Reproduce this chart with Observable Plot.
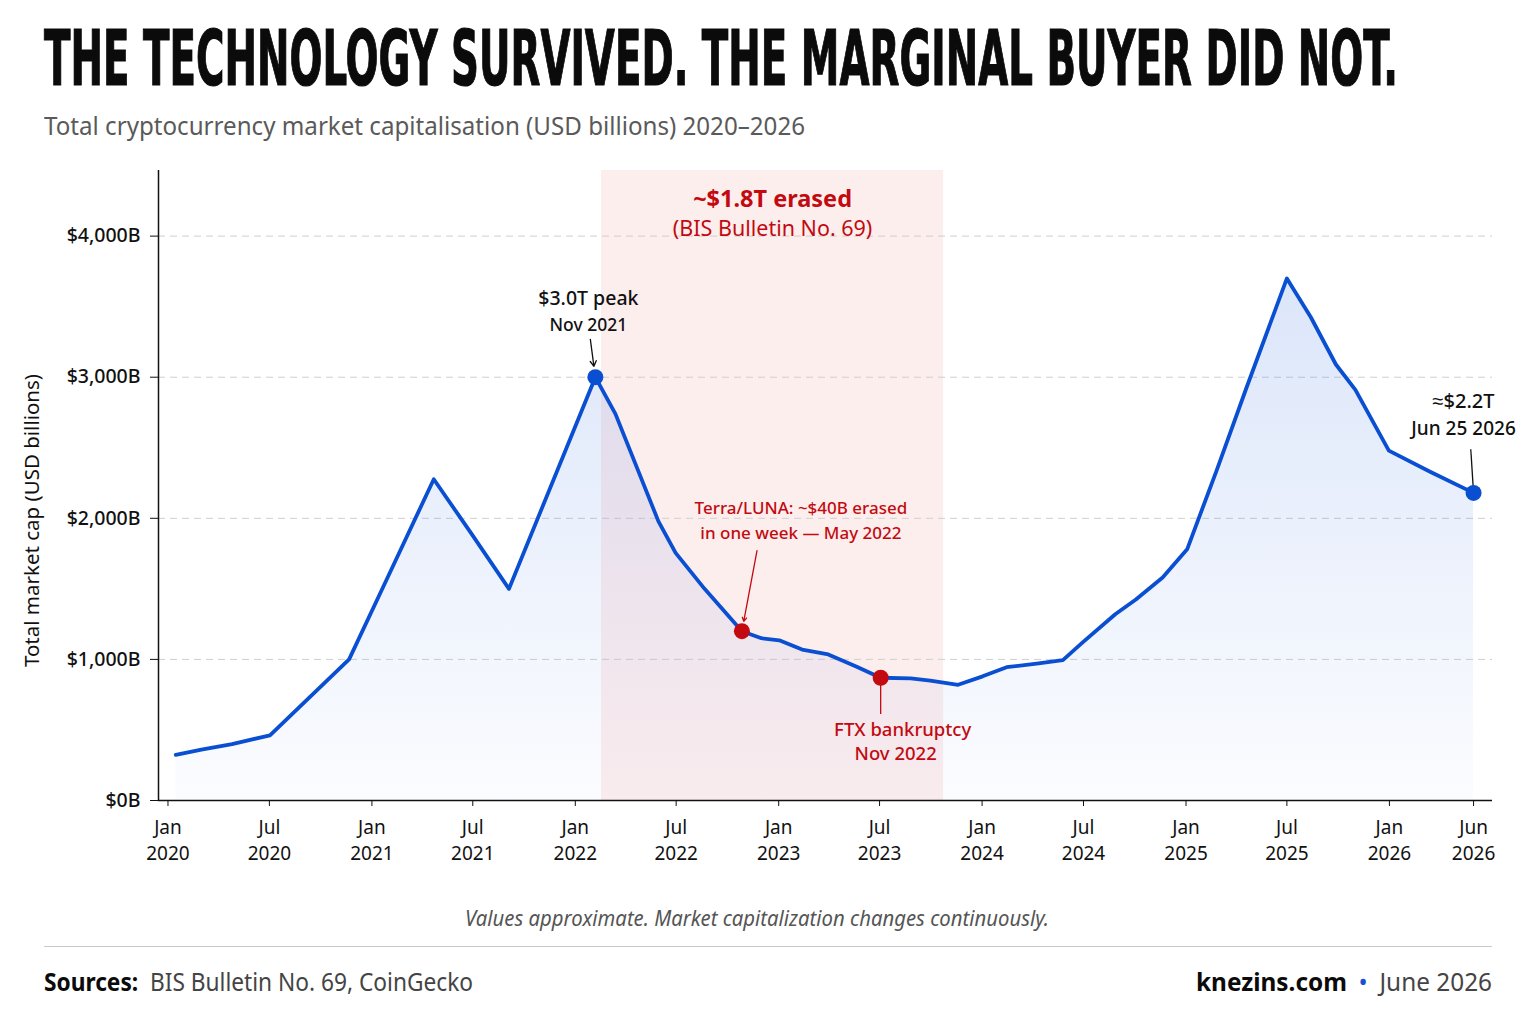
<!DOCTYPE html>
<html>
<head>
<meta charset="utf-8">
<script src="https://cdn.jsdelivr.net/npm/d3@7"></script>
<script src="https://cdn.jsdelivr.net/npm/@observablehq/plot@0.6"></script>
<style>
  body { margin: 0; background: #ffffff; }
  #page { position: relative; width: 1536px; height: 1024px; overflow: hidden; background: #ffffff; font-family: "Noto Sans", sans-serif; }
  .fit { position: absolute; white-space: nowrap; transform-origin: 0 0; display: inline-block; }
  #title { left: 44px; top: 21px; font-family: "Liberation Sans Narrow", "DejaVu Sans Condensed", "Roboto", sans-serif; font-stretch: condensed; font-weight: 700; font-size: 76px; line-height: 1; color: #0b0b0b; -webkit-text-stroke: 1.2px #0b0b0b; }
  #subtitle { left: 44px; top: 110px; font-family: "Liberation Sans Narrow", "Noto Sans", sans-serif; font-stretch: condensed; font-size: 25px; line-height: 1.2; color: #5a5a5a; }
  #chart { position: absolute; left: 0; top: 150px; }
  #caption { left: 465px; top: 906px; font-family: "Liberation Sans Narrow", "Noto Sans", sans-serif; font-stretch: condensed; font-style: italic; font-size: 21px; line-height: 1.2; color: #555; }
  #rule { position: absolute; left: 44px; width: 1448px; top: 946px; height: 0; border-top: 1.5px solid #c9c9c9; }
  #sources { left: 44px; top: 966px; font-family: "Liberation Sans Narrow", "Noto Sans", sans-serif; font-stretch: condensed; font-size: 25px; line-height: 1.2; color: #444; }
  #sources b { color: #0b0b0b; }
  #brand { left: 1196px; top: 966px; font-family: "Liberation Sans Narrow", "Noto Sans", sans-serif; font-stretch: condensed; font-size: 25px; line-height: 1.2; color: #444; }
  #brand .site { color: #0b0b0b; font-weight: 700; }
  #brand .dot { color: #1d4fd0; padding: 0 12px; }
</style>
</head>
<body>
<div id="page">
  <div id="title" class="fit">THE TECHNOLOGY SURVIVED. THE MARGINAL BUYER DID NOT.</div>
  <div id="subtitle" class="fit">Total cryptocurrency market capitalisation (USD billions) 2020–2026</div>
  <div id="chart"></div>
  <div id="caption" class="fit">Values approximate. Market capitalization changes continuously.</div>
  <div id="rule"></div>
  <div id="sources" class="fit"><b>Sources:</b>&nbsp; BIS Bulletin No. 69, CoinGecko</div>
  <div id="brand" class="fit"><span class="site">knezins.com</span><span class="dot">•</span>June 2026</div>
</div>
<script>
// ---- data ----
const dates = ["2020-01-15","2020-03-01","2020-04-25","2020-07-02","2020-11-21","2021-01-22","2021-04-22","2021-06-27","2021-09-04",
  "2022-02-06","2022-03-14","2022-05-30","2022-06-30","2022-08-21","2022-10-27","2022-12-01",
  "2023-01-02","2023-02-12","2023-03-31","2023-05-20","2023-07-03","2023-08-26","2023-09-30","2023-11-19",
  "2024-01-02","2024-02-14","2024-04-08","2024-05-25","2024-06-28","2024-08-27","2024-10-03","2024-11-20",
  "2025-01-03","2025-02-25","2025-04-19","2025-07-01","2025-08-13","2025-09-27","2025-11-01","2025-12-31",
  "2026-03-15","2026-06-01"];
const values = [324,360,400,462,1000,1520,2277,1900,1500,
  3000,2740,1980,1755,1500,1200,1150,
  1135,1070,1035,950,870,865,850,820,
  880,945,970,995,1115,1320,1425,1580,
  1780,2340,2920,3700,3425,3090,2910,2480,
  2330,2180];

const tickDates = ["2020-01-01","2020-07-01","2021-01-01","2021-07-01","2022-01-01","2022-07-01","2023-01-01","2023-07-01",
  "2024-01-01","2024-07-01","2025-01-01","2025-07-01","2026-01-01","2026-06-01"];
const tickMonths = ["Jan","Jul","Jan","Jul","Jan","Jul","Jan","Jul","Jan","Jul","Jan","Jul","Jan","Jun"];
const tickYears = ["2020","2020","2021","2021","2022","2022","2023","2023","2024","2024","2025","2025","2026","2026"];
const yTicks = [0, 1000, 2000, 3000, 4000];

const shadeStart = "2022-02-17";
const shadeEnd = "2023-10-24";

const peakIndex = 9, terraIndex = 14, ftxIndex = 20, lastIndex = 41;
const peakText = ["$3.0T peak", "Nov 2021"];
const erasedText = ["~$1.8T erased", "(BIS Bulletin No. 69)"];
const terraText = ["Terra/LUNA: ~$40B erased", "in one week — May 2022"];
const ftxText = ["FTX bankruptcy", "Nov 2022"];
const lastText = ["≈$2.2T", "Jun 25 2026"];
const yLabel = "Total market cap (USD billions)";

// ---- build ----
const BLUE = "#0a4fd2";
const RED = "#c20a10";
const data = dates.map((d, i) => ({date: new Date(d), value: values[i]}));
const peak = data[peakIndex], terra = data[terraIndex], ftx = data[ftxIndex], last = data[lastIndex];
const DAY = 864e5;
const shade = [{x1: new Date(shadeStart), x2: new Date(shadeEnd)}];
const shadeMid = new Date((+shade[0].x1 + +shade[0].x2) / 2);
const ticks = tickDates.map((d, i) => ({date: new Date(d), month: tickMonths[i], year: tickYears[i]}));
const tickFont = "Liberation Sans Narrow, Noto Sans, sans-serif";

const chart = Plot.plot({
  width: 1536,
  height: 720,
  marginLeft: 158,
  marginRight: 44,
  marginTop: 20,
  marginBottom: 70,
  style: {fontFamily: "Noto Sans, sans-serif", fontSize: "18px", color: "#111", background: "transparent", overflow: "visible"},
  x: {type: "utc", domain: [new Date("2019-12-15"), new Date("2026-07-05")], axis: null},
  y: {domain: [0, 4465], axis: null},
  marks: [
    Plot.rect(shade, {x1: "x1", x2: "x2", fill: "#fdeeee"}),
    Plot.gridY([1000, 2000, 3000, 4000], {stroke: "#cfcfcf", strokeOpacity: 1, strokeDasharray: "7,5", strokeWidth: 1}),
    Plot.areaY(data, {x: "date", y: "value", fill: "url(#capGrad)"}),
    Plot.line(data, {x: "date", y: "value", stroke: BLUE, strokeWidth: 3.8, strokeLinejoin: "round"}),
    Plot.ruleY([0], {stroke: "#111", strokeWidth: 1.5}),
    Plot.ruleX([new Date("2019-12-15")], {stroke: "#111", strokeWidth: 1.5}),
    Plot.axisY({ticks: yTicks, tickSize: 8, tickPadding: 10, tickFormat: d => "$" + d3.format(",")(d) + "B", fontSize: 19.5, fontWeight: 500, label: null}),
    Plot.axisX({ticks: ticks.map(t => t.date), tickSize: 6, tickFormat: () => "", label: null}),
    Plot.text(ticks, {x: "date", text: "month", frameAnchor: "bottom", lineAnchor: "middle", dy: 27, fontSize: 19, fontFamily: tickFont, fill: "#111"}),
    Plot.text(ticks, {x: "date", text: "year", frameAnchor: "bottom", lineAnchor: "middle", dy: 53, fontSize: 19, fontFamily: tickFont, fill: "#111"}),
    Plot.text([yLabel], {frameAnchor: "left", textAnchor: "middle", lineAnchor: "middle", dx: -126, dy: 35, rotate: -90, fontSize: 20.5, fill: "#111", text: d => d}),
    // shaded-region label
    Plot.text([erasedText[0]], {x: () => shadeMid, frameAnchor: "top", lineAnchor: "middle", dy: 29, text: d => d, fontSize: 23.5, fontWeight: 700, fill: RED}),
    Plot.text([erasedText[1]], {x: () => shadeMid, frameAnchor: "top", lineAnchor: "middle", dy: 59, text: d => d, fontSize: 21.5, fill: RED}),
    // peak
    Plot.arrow([peak], {x1: d => new Date(+d.date - 9 * DAY), y1: d => d.value + 268, x2: "date", y2: "value", insetEnd: 11, headLength: 7, stroke: "#111", strokeWidth: 1.3}),
    Plot.text([peak], {x: "date", y: "value", text: () => peakText[0], dx: -7, dy: -78, fontSize: 19.5, fontWeight: 500, fill: "#111"}),
    Plot.text([peak], {x: "date", y: "value", text: () => peakText[1], dx: -7, dy: -52, fontSize: 17.5, fontWeight: 500, fill: "#111"}),
    // terra
    Plot.arrow([terra], {x1: d => new Date(+d.date + 27 * DAY), y1: d => d.value + 570, x2: "date", y2: "value", insetEnd: 10, headLength: 5, stroke: RED, strokeWidth: 1.3}),
    Plot.text([terra], {x: "date", y: "value", text: () => terraText[0], dx: 59, dy: -123, fontSize: 17, fontWeight: 500, fill: RED}),
    Plot.text([terra], {x: "date", y: "value", text: () => terraText[1], dx: 59, dy: -98, fontSize: 17, fontWeight: 500, fill: RED}),
    // ftx
    Plot.link([ftx], {x1: "date", y1: "value", x2: "date", y2: d => d.value - 257, insetStart: 14, stroke: RED, strokeWidth: 1.3}),
    Plot.text([ftx], {x: "date", y: "value", text: () => ftxText[0], dx: 22, dy: 52, fontSize: 18.5, fontWeight: 500, fill: RED}),
    Plot.text([ftx], {x: "date", y: "value", text: () => ftxText[1], dx: 15, dy: 76, fontSize: 18.5, fontWeight: 500, fill: RED}),
    // last
    Plot.link([last], {x1: d => new Date(+d.date - 5 * DAY), y1: d => d.value + 310, x2: "date", y2: "value", insetEnd: 13, stroke: "#111", strokeWidth: 1.3}),
    Plot.text([last], {x: "date", y: "value", text: () => lastText[0], dx: -10, dy: -91, fontSize: 20, fontWeight: 500, fill: "#111"}),
    Plot.text([last], {x: "date", y: "value", text: () => lastText[1], dx: -10, dy: -64, fontSize: 19, fontWeight: 500, fill: "#111"}),
    // dots
    Plot.dot([peak, last], {x: "date", y: "value", r: 8, fill: BLUE}),
    Plot.dot([terra, ftx], {x: "date", y: "value", r: 8, fill: RED})
  ]
});

// gradient for the area fill
const ns = "http://www.w3.org/2000/svg";
const defs = document.createElementNS(ns, "defs");
defs.innerHTML = `<linearGradient id="capGrad" x1="0" y1="0" x2="0" y2="1">
  <stop offset="0%" stop-color="#2f6be0" stop-opacity="0.17"/>
  <stop offset="100%" stop-color="#2f6be0" stop-opacity="0.02"/>
</linearGradient>`;
chart.insertBefore(defs, chart.firstChild);
document.getElementById("chart").appendChild(chart);

// fit header/footer text to the reference widths
function fit(id, w) {
  const el = document.getElementById(id);
  const r = el.getBoundingClientRect().width;
  if (r > 0) el.style.transform = `scaleX(${w / r})`;
}
fit("title", 1354);
fit("subtitle", 761);
fit("caption", 584);
fit("sources", 429);
fit("brand", 296);
</script>
</body>
</html>
